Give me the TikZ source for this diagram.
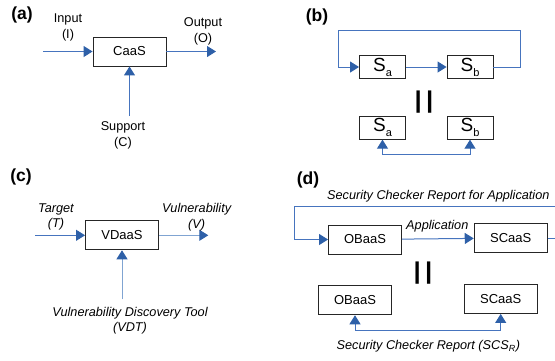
\documentclass[tikz,border=0pt]{standalone}
\usepackage{fontspec}
\setmainfont{Liberation Sans}
\usetikzlibrary{arrows.meta,positioning}
\definecolor{linkblue}{RGB}{70,116,190}
\definecolor{tipblue}{RGB}{46,96,168}
\definecolor{paleblue}{RGB}{128,164,210}
\tikzset{
    box/.style={draw=black!85,line width=0.9pt,minimum width=73pt,minimum height=29pt,inner sep=0pt,font=\fontsize{13}{13}\selectfont},
    smallbox/.style={box,minimum width=46pt,minimum height=23pt,font=\fontsize{19}{19}\selectfont},
    arr/.style={-{Triangle[length=9pt,width=11pt,color=tipblue]},linkblue,line width=1pt},
    darr/.style={{Triangle[length=9pt,width=11pt,color=tipblue]}-{Triangle[length=9pt,width=11pt,color=tipblue]},linkblue,line width=1pt},
    panel/.style={font=\fontsize{17.5}{17.5}\selectfont\bfseries},
    lbl/.style={align=center,inner sep=0pt,font=\fontsize{12.7}{15.5}\selectfont},
    ilbl/.style={lbl,font=\fontsize{12.7}{15.5}\selectfont\itshape},
    eqbars/.style={rotate=90,inner sep=0pt,font=\fontsize{46}{46}\selectfont},
}
\newcommand{\sub}[1]{\raisebox{-5pt}{\fontsize{11}{11}\selectfont #1}}

\begin{document}
\begin{tikzpicture}[x=1pt,y=-1pt]
    \useasboundingbox (0,0) rectangle (555,360);
    \clip (0,0) rectangle (555,360);

    % (a)
    \node[panel] (pa) at (22,15) {(a)};
    \node[box] (caas) at (129.5,51.5) {CaaS};
    \coordinate (in) at (43,51.5);
    \coordinate (out) at (216,51.5);
    \coordinate (sup) at (129.5,116);
    \draw[arr] (in) -- (caas.west);
    \draw[arr] (caas.east) -- (out);
    \draw[arr] (sup) -- (caas.south);
    \node[lbl] (inlbl) at (68,27.5) {Input\\(I)};
    \node[lbl] (outlbl) at (203,31.5) {Output\\(O)};
    \node[lbl] (suplbl) at (123,135.5) {Support\\(C)};

    % (b)
    \node[panel] (pb) at (317,17) {(b)};
    \node[smallbox] (sa) at (382.5,67) {S\sub{a}};
    \node[smallbox] (sb) at (470,67) {S\sub{b}};
    \coordinate (bl) at (338.3,30.7);
    \coordinate (br) at (520,30.7);
    \draw[arr] (sa) -- (sb);
    \draw[arr] (sb.east) -| (br) -- (bl) |- (sa.west);
    \node[eqbars] (eqb) at (428,102.5) {=};
    \node[smallbox] (sa2) at (382.5,127.7) {S\sub{a}};
    \node[smallbox] (sb2) at (470,127.7) {S\sub{b}};
    \coordinate (bm) at (426,154.3);
    \draw[darr] (sa2.south) |- (bm) -| (sb2.south);

    % (c)
    \node[panel] (pc) at (21,177) {(c)};
    \node[box] (vdaas) at (122,235.3) {VDaaS};
    \coordinate (tgt) at (35,235.3);
    \coordinate (vul) at (208.3,235.3);
    \coordinate (vdt) at (122,299.3);
    \draw[arr,line width=0.9pt] (tgt) -- (vdaas.west);
    \draw[arr,paleblue] (vdaas.east) -- (vul);
    \draw[arr,paleblue] (vdt) -- (vdaas.south);
    \node[ilbl] (tgtlbl) at (56,217) {Target\\(T)};
    \node[ilbl] (vullbl) at (196.7,217) {Vulnerability\\(V)};
    \node[ilbl] (vdtlbl) at (130,320.5) {Vulnerability Discovery Tool\\(VDT)};

    % (d)
    \node[panel] (pd) at (308,180) {(d)};
    \node[box] (ob) at (365,239.5) {OBaaS};
    \node[box] (sc) at (510.7,238) {SCaaS};
    \coordinate (tl) at (294,206);
    \coordinate (tr) at (565,206);
    \draw[arr] (ob) -- (sc);
    \draw[arr] (sc.east) -| (tr) -- (tl) |- (ob.west);
    \node[ilbl] (applbl) at (437.3,226) {Application};
    \node[ilbl] (toplbl) at (438.3,196) {Security Checker Report for Application};
    \node[eqbars] (eqd) at (427,272.7) {=};
    \node[box] (ob2) at (355,300.3) {OBaaS};
    \node[box] (sc2) at (500.7,299) {SCaaS};
    \coordinate (dm) at (428,330.7);
    \draw[darr] (ob2.south) |- (dm) -| (sc2.south);
    \node[ilbl] (scslbl) at (428.3,346.7) {Security Checker Report (SCS\textsubscript{R})};
\end{tikzpicture}
\end{document}
